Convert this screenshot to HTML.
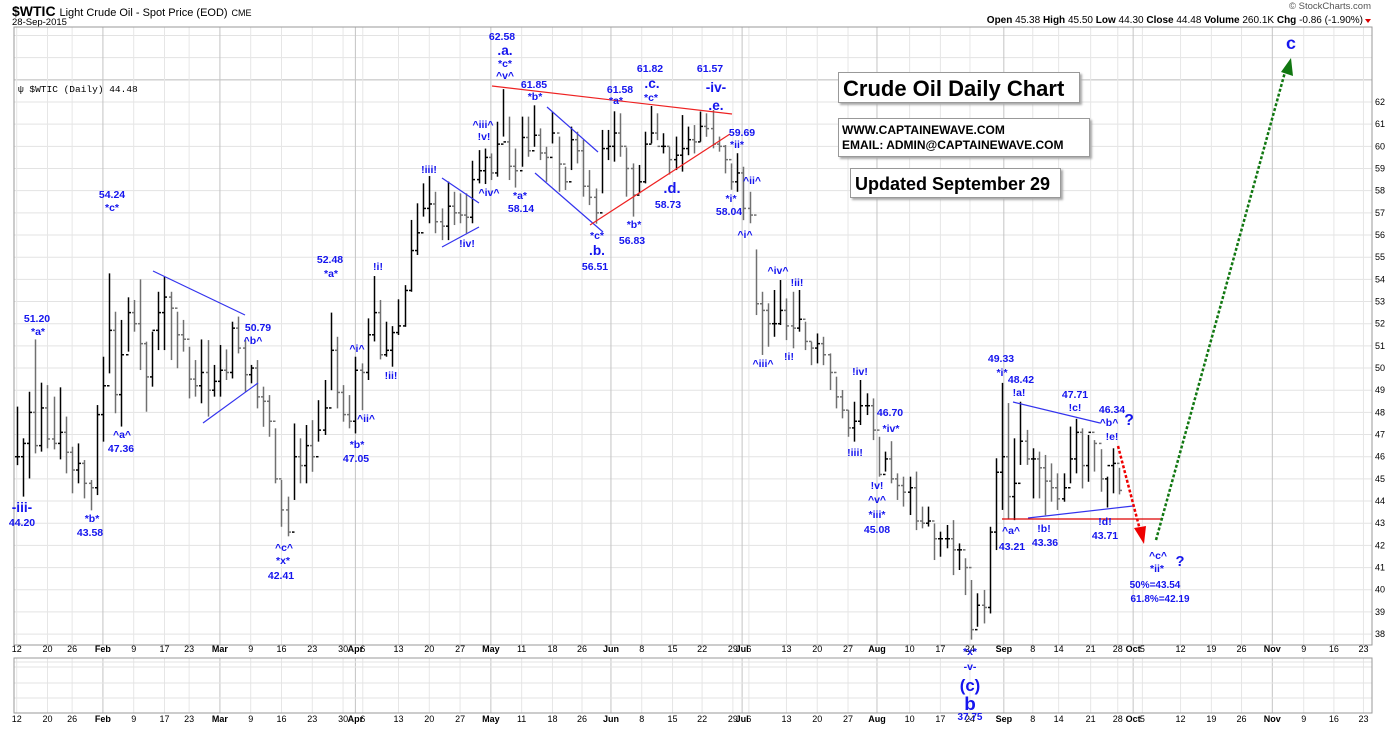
<!DOCTYPE html>
<html><head><meta charset="utf-8"><style>
html,body{margin:0;padding:0;background:#fff;}
svg{display:block;font-family:"Liberation Sans",Arial,sans-serif;}
.box{position:absolute;background:#fff;border:1px solid #999;box-shadow:2px 2px 2px #aaa;font-family:"Liberation Sans",Arial,sans-serif;font-weight:bold;color:#000;}
</style></head><body>
<div style="position:relative;width:1400px;height:730px;overflow:hidden">
<svg id="c" width="1400" height="730" viewBox="0 0 1400 730"></svg>
<div class="box" style="left:838px;top:72px;width:242px;height:31px;font-size:22px;line-height:31px;padding-left:4px;box-sizing:border-box;">Crude Oil Daily Chart</div>
<div class="box" style="left:838px;top:118px;width:252px;height:39px;font-size:12px;line-height:15px;padding:4px 0 0 3px;box-sizing:border-box;">WWW.CAPTAINEWAVE.COM<br>EMAIL: ADMIN@CAPTAINEWAVE.COM</div>
<div class="box" style="left:850px;top:168px;width:211px;height:30px;font-size:18px;line-height:30px;padding-left:4px;box-sizing:border-box;">Updated September 29</div>
</div>
<script>
const highs=[48.26,46.83,48.93,51.29,49.34,49.23,48.71,49.13,47.81,46.45,46.6,45.85,44.95,48.33,50.51,54.27,52.54,52.17,53.19,53.07,54.0,51.19,51.64,53.44,54.12,53.44,52.54,52.17,50.96,50.36,51.29,51.26,50.14,51.04,50.84,52.09,52.32,51.26,50.14,50.36,49.16,48.78,47.28,44.95,44.2,47.5,46.83,47.43,47.65,48.55,49.46,52.5,51.41,49.23,48.78,50.51,50.21,52.24,54.15,53.07,52.09,51.89,53.1,53.74,56.68,57.43,58.33,58.66,57.95,57.2,58.41,57.95,57.88,57.88,59.35,59.83,59.9,59.68,61.11,62.58,61.34,59.9,61.34,61.34,61.85,60.81,59.98,61.56,60.44,59.08,60.89,60.66,60.29,58.93,58.1,60.74,60.74,61.58,61.49,59.95,59.23,59.16,60.66,61.82,61.49,60.59,59.98,60.44,61.41,60.89,60.96,61.57,61.49,61.64,60.44,60.06,59.23,59.69,59.08,57.95,55.35,53.44,52.92,53.52,53.97,53.14,53.44,53.52,52.09,51.19,51.56,51.41,50.66,49.61,49.01,48.1,48.48,49.46,48.86,48.63,46.9,46.23,46.7,45.25,45.1,45.1,45.33,43.75,43.75,42.99,42.62,42.92,43.14,42.09,41.42,40.44,39.84,39.99,42.84,45.93,49.33,48.42,46.83,48.48,47.21,46.38,46.23,46.08,45.7,45.25,45.25,47.36,47.71,47.28,46.98,46.75,46.34,45.1,46.38,45.5];
const lows=[45.62,44.2,45.02,46.15,46.23,46.38,46.33,45.88,45.25,44.35,44.8,44.12,43.58,44.27,46.68,49.76,47.96,47.36,50.74,51.64,49.91,48.03,49.16,50.81,50.81,50.36,49.99,50.74,48.63,48.71,48.41,47.81,48.71,48.71,49.46,49.53,50.66,48.93,49.31,48.18,47.35,46.9,44.8,42.84,42.41,44.05,44.8,44.8,45.32,46.68,46.98,49.0,48.18,47.58,47.28,47.05,48.1,49.46,51.2,50.39,50.51,50.06,51.49,51.86,53.44,55.1,56.83,56.53,56.08,55.77,55.77,56.45,56.53,56.08,56.53,58.33,58.3,58.48,58.63,60.44,58.48,58.14,59.08,59.53,59.98,59.38,58.4,60.13,57.95,58.03,58.93,59.23,57.73,57.35,56.51,57.88,59.38,59.31,59.53,57.73,56.83,57.88,58.33,60.13,60.28,59.68,58.73,58.93,58.86,59.6,59.68,60.21,60.43,59.91,59.76,58.78,58.04,57.95,56.67,56.53,52.39,50.59,50.96,51.41,51.94,51.26,50.89,51.64,50.81,50.13,50.21,50.13,49.01,48.18,47.73,46.9,46.68,47.43,47.88,46.75,45.1,45.33,44.8,44.05,43.75,43.37,42.69,42.77,42.85,41.34,41.49,41.87,40.66,40.89,39.76,37.75,38.33,38.48,38.93,41.79,43.6,43.21,43.14,45.63,45.63,44.12,44.12,43.36,43.97,43.6,43.97,44.8,45.25,44.57,44.87,45.33,44.42,43.71,44.35,44.3];
const closes=[46.0,46.6,48.0,46.5,48.2,46.8,46.6,47.1,46.2,45.4,45.7,44.8,44.6,47.9,49.2,51.7,48.8,50.6,52.5,52.0,51.1,49.6,51.7,52.5,53.2,52.7,51.5,51.3,49.5,49.2,49.8,49.0,49.4,49.9,49.8,51.8,50.9,49.7,50.0,48.7,48.5,47.6,45.0,43.6,42.6,46.0,45.6,46.5,46.0,47.2,48.2,50.8,48.9,47.9,47.6,49.9,49.8,51.5,52.5,50.6,50.8,51.6,51.9,53.5,55.3,56.1,57.2,57.4,56.6,56.4,57.3,57.0,56.9,56.8,58.5,58.9,59.5,58.8,60.1,60.2,59.1,58.9,60.4,59.8,60.5,59.7,59.5,60.6,59.2,58.4,60.3,59.8,58.2,57.7,57.0,59.9,60.0,60.6,60.0,59.0,57.8,58.4,60.1,60.6,60.0,60.0,59.4,59.6,59.9,60.3,60.2,60.9,60.8,60.1,60.0,59.4,58.4,58.8,57.2,56.9,52.9,52.6,52.0,52.0,52.6,51.9,51.8,52.2,51.2,50.9,51.1,50.6,49.8,48.7,48.1,47.3,47.6,48.3,48.3,47.2,45.2,45.9,45.0,44.7,44.4,44.6,43.1,43.0,43.1,42.3,42.3,42.3,41.8,41.8,41.0,38.2,39.3,39.2,42.6,45.3,46.0,44.2,44.8,46.7,45.9,45.9,45.5,44.9,44.6,44.1,44.6,45.9,47.1,45.6,47.1,46.6,45.0,45.6,45.7,44.48];
const yTicks=[38,39,40,41,42,43,44,45,46,47,48,49,50,51,52,53,54,55,56,57,58,59,60,61,62];
const xTickIdx=[0,5,9,14,19,24,28,33,38,43,48,53,55,56.2,62,67,72,77,82,87,91.8,96.5,101.5,106.5,111.3,116.3,117.8,118.9,125,130,135,139.7,145,150,154.8,160.3,165,169.2,174.4,178.8,181.3,182.8,189,194,198.9,203.9,209,213.9,218.7];
const xTickLbl=["12","20","26","Feb","9","17","23","Mar","9","16","23","30","Apr","6","13","20","27","May","11","18","26","Jun","8","15","22","29","Jul","6","13","20","27","Aug","10","17","24","Sep","8","14","21","28","Oct","5","12","19","26","Nov","9","16","23"];
const monthLbls=["Feb","Mar","Apr","May","Jun","Jul","Aug","Sep","Oct","Nov"];

const NS="http://www.w3.org/2000/svg";
const svg=document.getElementById('c');
const X0=16.7,DX=6.158,L=14,R=1372,T=27,B=645;
function xs(i){return X0+i*DX;}
function ys(p){return 102+(62-p)*22.17;}
function mk(tag,attrs,parent){const e=document.createElementNS(NS,tag);for(const k in attrs)e.setAttribute(k,attrs[k]);(parent||svg).appendChild(e);return e;}

let t=mk('text',{x:12,y:16,'font-size':14,'font-weight':'bold',fill:'#000'});


t.innerHTML='$WTIC <tspan font-size="11" font-weight="normal">Light Crude Oil - Spot Price (EOD)</tspan> <tspan font-size="9" font-weight="normal">CME</tspan>';
t=mk('text',{x:12,y:25,'font-size':9.5,fill:'#000'});t.textContent='28-Sep-2015';


t=mk('text',{x:1371,y:9,'font-size':9.5,fill:'#555','text-anchor':'end'});t.textContent='© StockCharts.com';


t=mk('text',{x:1363,y:23,'font-size':10,fill:'#000','text-anchor':'end'});


t.innerHTML='<tspan font-weight="bold">Open</tspan> 45.38 <tspan font-weight="bold">High</tspan> 45.50 <tspan font-weight="bold">Low</tspan> 44.30 <tspan font-weight="bold">Close</tspan> 44.48 <tspan font-weight="bold">Volume</tspan> 260.1K <tspan font-weight="bold">Chg</tspan> -0.86 (-1.90%)';
let tri=mk('path',{d:'M1365,19 l6,0 l-3,4 z',fill:'#d00'});



const grid=mk('g',{});


for(let p=38;p<=65;p++){const y=ys(p);if(y<T)continue;mk('line',{x1:L,x2:R,y1:y,y2:y,stroke:p===63?'#bbb':'#e3e3e3','stroke-width':1},grid);}
xTickIdx.forEach((ix,k)=>{const x=xs(ix);const m=monthLbls.includes(xTickLbl[k]);
 mk('line',{x1:x,x2:x,y1:T,y2:B,stroke:m?'#c4c4c4':'#e6e6e6'},grid);
 mk('line',{x1:x,x2:x,y1:658,y2:713,stroke:m?'#c4c4c4':'#e6e6e6'},grid);});
[662,667,683,698].forEach(y=>mk('line',{x1:L,x2:R,y1:y,y2:y,stroke:'#e3e3e3'},grid));
let fr=mk('rect',{x:L,y:T,width:R-L,height:B-T,fill:'none',stroke:'#999'});


fr=mk('rect',{x:L,y:658,width:R-L,height:55,fill:'none',stroke:'#999'});


t=mk('text',{x:18,y:92,'font-size':9.5,fill:'#000','font-family':'Liberation Mono, monospace'});t.textContent='ψ $WTIC (Daily) 44.48';



yTicks.forEach(v=>{const e=mk('text',{x:1375,y:ys(v)+3,'font-size':9,fill:'#000'});e.textContent=v;

});
xTickIdx.forEach((ix,k)=>{[652,722].forEach(y=>{const m=monthLbls.includes(xTickLbl[k]);
const e=mk('text',{x:xs(ix),y:y,'font-size':9,'text-anchor':'middle',fill:'#000','font-weight':m?'bold':'normal'});e.textContent=xTickLbl[k];

});});

const bars=mk('g',{});


highs.forEach((h,i)=>{const x=Math.round(xs(i))+0.5;const c=closes[i];const o=i>0?closes[i-1]:c;
 const col=(i>0&&c<closes[i-1])?'#707070':'#000';
 const g=mk('g',{stroke:col,'stroke-width':1.5},bars);
 
 
 mk('line',{x1:x,x2:x,y1:ys(h),y2:ys(lows[i])},g);
 mk('line',{x1:x-2.5,x2:x,y1:ys(o),y2:ys(o)},g);
 mk('line',{x1:x,x2:x+2.5,y1:ys(c),y2:ys(c)},g);});

const lines=[[153,271,245,315,'#3333ee','triangle-upper-feb'],[203,423,258,383,'#3333ee','triangle-lower-feb'],
[442,178,479,203,'#3333ee','wedge-upper-apr'],[442,247,479,227,'#3333ee','wedge-lower-apr'],
[547,107,598,152,'#3333ee','channel-upper-may'],[535,173,603,232,'#3333ee','channel-lower-may'],
[492,86,732,114,'#ee2222','triangle-upper-red'],[590,225,730,134,'#ee2222','triangle-lower-red'],
[1013,402,1100,423,'#3333ee','triangle-upper-sep'],[1028,518,1133,506,'#3333ee','triangle-lower-sep'],
[1002,519,1162,519,'#dd0000','support-line']];
lines.forEach(l=>{const e=mk('line',{x1:l[0],y1:l[1],x2:l[2],y2:l[3],stroke:l[4],'stroke-width':1.2});

});
let d=mk('line',{x1:1118,y1:446,x2:1140,y2:530,stroke:'#e00','stroke-width':2.5,'stroke-dasharray':'3,2'});


mk('path',{d:'M1134,528 L1146,526 L1144,544 Z',fill:'#e00'});
d=mk('line',{x1:1156,y1:540,x2:1285,y2:72,stroke:'#117711','stroke-width':2.5,'stroke-dasharray':'3,2'});


mk('path',{d:'M1281,72 L1291,58 L1293,76 Z',fill:'#117711'});

const ann=[[37,322,'51.20',10],[38,335,'*a*',10],[112,198,'54.24',10],[112,211,'*c*',10],[22,512,'-iii-',13],[22,526,'44.20',10],
[92,522,'*b*',10],[90,536,'43.58',10],[122,438,'^a^',10],[121,452,'47.36',10],[258,331,'50.79',10],[253,344,'^b^',10],
[284,551,'^c^',10],[283,564,'*x*',10],[281,579,'42.41',10],[330,263,'52.48',10],[331,277,'*a*',10],[357,352,'^i^',10],
[366,422,'^ii^',10],[357,448,'*b*',10],[356,462,'47.05',10],[378,270,'!i!',10],[391,379,'!ii!',10],[429,173,'!iii!',10],
[467,247,'!iv!',10],[483,128,'^iii^',10],[484,140,'!v!',10],[489,196,'^iv^',10],[502,40,'62.58',10],[505,55,'.a.',13],
[505,67,'*c*',10],[505,79,'^v^',10],[534,88,'61.85',10],[535,100,'*b*',10],[520,199,'*a*',10],[521,212,'58.14',10],
[597,239,'*c*',10],[597,255,'.b.',13],[595,270,'56.51',10],[620,93,'61.58',10],[616,104,'*a*',10],[650,72,'61.82',10],
[652,88,'.c.',13],[651,101,'*c*',10],[634,228,'*b*',10],[632,244,'56.83',10],[672,193,'.d.',14],[668,208,'58.73',10],
[710,72,'61.57',10],[716,92,'-iv-',13],[716,110,'.e.',13],[742,136,'59.69',10],[737,148,'*ii*',10],[731,202,'*i*',10],
[729,215,'58.04',10],[752,184,'^ii^',10],[745,238,'^i^',10],[778,274,'^iv^',10],[797,286,'!ii!',10],[763,367,'^iii^',10],
[789,360,'!i!',10],[860,375,'!iv!',10],[855,456,'!iii!',10],[890,416,'46.70',10],[891,432,'*iv*',10],[877,489,'!v!',10],
[877,503,'^v^',10],[877,518,'*iii*',10],[877,533,'45.08',10],[1001,362,'49.33',10],[1002,376,'*i*',10],[1021,383,'48.42',10],
[1019,396,'!a!',10],[1075,398,'47.71',10],[1075,411,'!c!',10],[1112,413,'46.34',10],[1109,426,'^b^',10],[1112,440,'!e!',10],
[1129,425,'?',15],[1011,534,'^a^',10],[1012,550,'43.21',10],[1044,532,'!b!',10],[1045,546,'43.36',10],[1105,525,'!d!',10],
[1105,539,'43.71',10],[1158,559,'^c^',10],[1157,572,'*ii*',10],[1180,566,'?',14],[1155,588,'50%=43.54',9.5],[1160,602,'61.8%=42.19',9.5],
[1291,49,'c',17],[970,655,'*x*',10],[970,670,'-v-',10],[970,691,'(c)',16],[970,710,'b',18],[970,720,'37.75',9.5]];
const ag=mk('g',{fill:'#1515ee','font-weight':'bold','text-anchor':'middle'});


ann.forEach(a=>{const e=mk('text',{x:a[0],y:a[1],'font-size':a[3]*1.05},ag);e.textContent=a[2];

});
</script>
</body></html>
